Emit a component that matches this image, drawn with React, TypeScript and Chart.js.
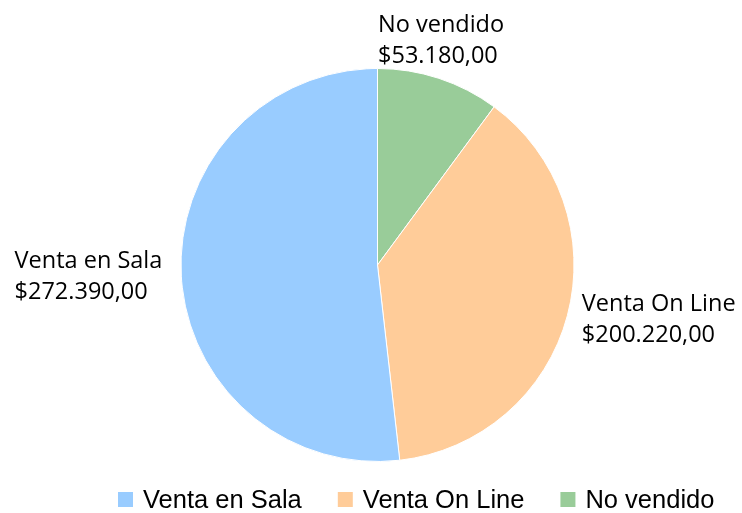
import { useEffect, useRef } from 'react';
import { Chart, registerables } from 'chart.js';
Chart.register(...registerables);

const categories = ['No vendido', 'Venta On Line', 'Venta en Sala'];
const values = [53180, 200220, 272390];
const colors = ['#99CC99', '#FFCC99', '#99CCFF'];
const legendOrder = [2, 1, 0];

function fmt(v: number): string {
  const [i, d] = v.toFixed(2).split('.');
  return '$' + i.replace(/\B(?=(\d{3})+(?!\d))/g, '.') + ',' + d;
}

const labelPlugin = {
  id: 'outLabels',
  afterDatasetsDraw(chart: any) {
    const ctx = chart.ctx;
    const meta = chart.getDatasetMeta(0);
    ctx.save();
    ctx.font = '23.5px "Open Sans"';
    ctx.fillStyle = '#000';
    ctx.textBaseline = 'alphabetic';
    ctx.textAlign = 'left';
    const lh = 31;
    meta.data.forEach((arc: any, i: number) => {
      const { x, y, startAngle, endAngle, outerRadius } = arc.getProps(
        ['x', 'y', 'startAngle', 'endAngle', 'outerRadius'],
        true
      );
      const mid = (startAngle + endAngle) / 2;
      const dx = Math.cos(mid);
      const dy = Math.sin(mid);
      const off = Math.abs(dy) > 0.7 ? 7 : dx < 0 ? 19 : 15;
      const ax = x + (outerRadius + off) * dx;
      const ay = y + (outerRadius + off) * dy;
      const lines = [chart.data.labels[i], fmt(chart.data.datasets[0].data[i])];
      const w = Math.max(...lines.map((l: string) => ctx.measureText(l).width));
      let left: number;
      let top: number;
      if (Math.abs(dy) > 0.7) {
        left = ax - w / 2;
        top = dy < 0 ? ay - lh * 2 : ay;
      } else {
        left = dx > 0 ? ax : ax - w;
        top = ay - lh;
      }
      lines.forEach((l: string, k: number) => ctx.fillText(l, left, top + lh * k + 22));
    });
    ctx.restore();
  },
};

const legendPlugin = {
  id: 'customLegend',
  afterDraw(chart: any) {
    const ctx = chart.ctx;
    ctx.save();
    ctx.font = '25.5px "Liberation Sans"';
    ctx.textBaseline = 'alphabetic';
    ctx.textAlign = 'left';
    let x = 118;
    const boxY = 492;
    legendOrder.forEach((i) => {
      ctx.fillStyle = chart.data.datasets[0].backgroundColor[i];
      ctx.fillRect(x, boxY, 15, 15);
      ctx.fillStyle = '#000';
      const t = chart.data.labels[i];
      ctx.fillText(t, x + 25, 508);
      x += 25 + ctx.measureText(t).width + 36;
    });
    ctx.restore();
  },
};

export default function App() {
  const ref = useRef<HTMLCanvasElement | null>(null);
  useEffect(() => {
    document.body.style.margin = '0';
    const chart = new Chart(ref.current as HTMLCanvasElement, {
      type: 'pie',
      data: {
        labels: categories,
        datasets: [
          {
            data: values,
            backgroundColor: colors,
            borderColor: '#ffffff',
            borderWidth: 1,
          },
        ],
      },
      options: {
        animation: false,
        responsive: true,
        maintainAspectRatio: false,
        layout: { padding: { left: 179, right: 166, top: 68, bottom: 51 } },
        plugins: {
          legend: { display: false },
          tooltip: { enabled: false },
        },
      },
      plugins: [labelPlugin, legendPlugin],
    });
    return () => chart.destroy();
  }, []);
  return (
    <div style={{ width: 742, height: 513, position: 'relative', background: '#fff' }}>
      <canvas ref={ref} />
    </div>
  );
}
